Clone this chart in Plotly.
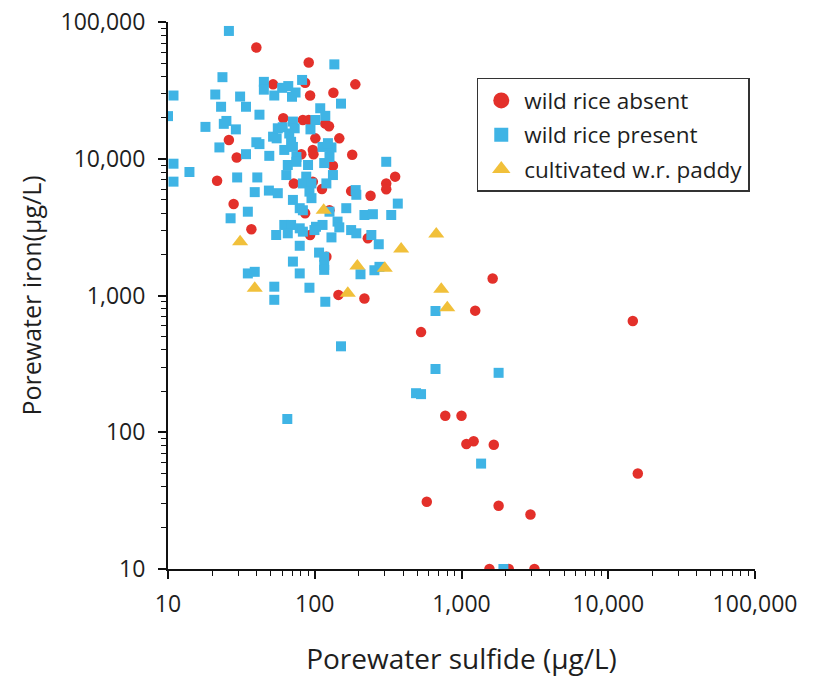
import plotly.graph_objects as go

# ---- data (porewater sulfide µg/L, porewater iron µg/L) ----
absent_sulfide = [40, 91, 52, 86, 93, 134, 189, 61, 83, 91, 118, 125, 147, 101, 97, 98, 81,
                  26, 29.4, 180, 21.6, 28, 37, 72, 97, 112, 133, 177, 240, 307, 307, 353,
                  86, 126, 93, 230, 120, 145, 218, 1630, 1240, 530, 14700, 775, 1000,
                  1080, 1210, 1660, 15900, 580, 1790, 2950, 1550, 2100, 3140]
absent_iron = [65000, 50500, 35000, 36000, 29000, 30400, 35000, 19800, 19200, 19200, 18100,
               17300, 14100, 14100, 11600, 10800, 10800, 13700, 10200, 10700, 6900, 4670,
               3050, 6600, 6800, 6000, 8900, 5800, 5370, 6600, 5980, 7400, 4000, 4200, 2770,
               2620, 1920, 1010, 950, 1330, 775, 540, 650, 132, 132, 82, 86, 81, 50, 31, 29,
               25, 10, 10, 10]

present_sulfide = [26, 136, 23.5, 10.9, 10, 21, 31, 34, 23, 45, 45, 53, 60, 66, 74, 70, 82, 42,
                   151, 109, 118, 18, 25, 24, 29, 22.4, 34, 40, 42, 49, 52, 56, 60.5, 55, 67,
                   71, 73, 69, 62, 71, 93.5, 101, 113, 130, 123, 307, 75,
                   10.9, 14, 10.9, 29.6, 40.6, 39, 48.7, 56, 65.5, 75, 90, 64, 87.5, 83, 95,
                   92, 95, 116, 133, 120, 126, 71, 79, 83, 126, 164, 190, 192, 218, 249, 368,
                   332, 35, 26.7, 62, 69, 79, 65.5, 83, 54.6, 102, 113, 99.5, 143, 147, 130,
                   177, 192, 243, 273, 79, 107, 116, 71, 116, 116, 79, 35, 39, 53, 53, 92, 118,
                   205, 255, 276, 665, 665, 1790, 490, 530, 1360, 1930, 65, 151]
present_iron = [86000, 49000, 39500, 29000, 20500, 29500, 28500, 24000, 24000, 36500, 32000,
                29000, 33000, 34000, 30500, 28400, 37700, 21000, 25300, 23400, 20600, 17100,
                18900, 18000, 16400, 12100, 10800, 13200, 12800, 10500, 14500, 16700, 17000,
                14100, 15300, 18700, 16700, 13300, 11600, 12200, 16400, 19200, 12200, 12100,
                13000, 9500, 10300,
                9200, 8000, 6800, 7300, 7300, 5700, 5850, 5600, 9000, 9500, 9000, 7600, 7400,
                6600, 6600, 5750, 5150, 9300, 7600, 6600, 10300, 5000, 4350, 4200, 4100, 4350,
                5900, 5450, 3880, 3930, 4700, 3880, 4100, 3670, 3280, 3280, 3100, 2850, 2930,
                2770, 3180, 3280, 3010, 3470, 3150, 2660, 3010, 2850, 2770, 2370, 2310, 2060,
                1920, 1770, 1670, 1540, 1450, 1450, 1490, 1160, 930, 1140, 900, 1430, 1530,
                1620, 770, 290, 272, 193, 190, 59, 10, 125, 425]

paddy_sulfide = [115, 31, 388, 195, 300, 39, 168, 673, 728, 800]
paddy_iron = [4200, 2470, 2190, 1640, 1580, 1130, 1040, 2820, 1110, 815]

series_names = ["wild rice absent", "wild rice present", "cultivated w.r. paddy"]

tick_vals = [10, 100, 1000, 10000, 100000]
tick_text = ["10", "100", "1,000", "10,000", "100,000"]
minor_vals = [k * 10 ** n for n in range(1, 5) for k in range(2, 10)]

RED = "#E3302A"
BLUE = "#3FB4E5"
YELLOW = "#F1C03A"
FONT = "Open Sans"
TXT = "#1e1e1e"

styles = [
    dict(symbol="circle", size=10.5, color=RED),
    dict(symbol="square", size=10, color=BLUE),
    dict(symbol="triangle-up", size=14, color=YELLOW),
]
legend_styles = [
    dict(symbol="circle", size=16, color=RED),
    dict(symbol="square", size=14, color=BLUE),
    dict(symbol="triangle-up", size=16, color=YELLOW),
]
datasets = [(absent_sulfide, absent_iron), (present_sulfide, present_iron),
            (paddy_sulfide, paddy_iron)]

fig = go.Figure()
for name, (xs, ys), st in zip(series_names, datasets, styles):
    fig.add_trace(go.Scatter(x=xs, y=ys, mode="markers", name=name, legendgroup=name,
                             showlegend=False, marker=st))
# legend entries (larger symbols, as in the original key)
for name, st in zip(series_names, legend_styles):
    fig.add_trace(go.Scatter(x=[None], y=[None], mode="markers", name=name,
                             legendgroup=name, showlegend=True, marker=st))

axis_common = dict(type="log", range=[1, 5], showgrid=False, zeroline=False,
                   showline=True, linecolor="#111", linewidth=2,
                   ticks="outside", ticklen=8, tickwidth=1.5, tickcolor="#111",
                   tickvals=tick_vals, ticktext=tick_text,
                   minor=dict(tickvals=minor_vals, ticks="outside", ticklen=5,
                              tickwidth=1.3, tickcolor="#111", showgrid=False))

fig.update_xaxes(**axis_common, ticklabelstandoff=5,
                 tickfont=dict(family=FONT, size=23, color=TXT),
                 title=dict(text="Porewater sulfide (µg/L)", standoff=33,
                            font=dict(family=FONT, size=28, color=TXT)))
fig.update_yaxes(**axis_common, ticklabelstandoff=8,
                 tickfont=dict(family=FONT, size=23, color=TXT),
                 title=dict(text="Porewater iron(µg/L)", standoff=12,
                            font=dict(family=FONT, size=25, color=TXT)))

fig.update_layout(
    width=815, height=677,
    margin=dict(l=168, r=60, t=22, b=108, autoexpand=False),
    paper_bgcolor="white", plot_bgcolor="white",
    showlegend=True,
    legend=dict(x=0.526, y=0.898, xanchor="left", yanchor="top",
                bgcolor="white", bordercolor="#333", borderwidth=1.5,
                font=dict(family=FONT, size=22.5, color=TXT),
                itemwidth=36,
                traceorder="grouped", tracegroupgap=2),
)

fig.write_html("out.html")
